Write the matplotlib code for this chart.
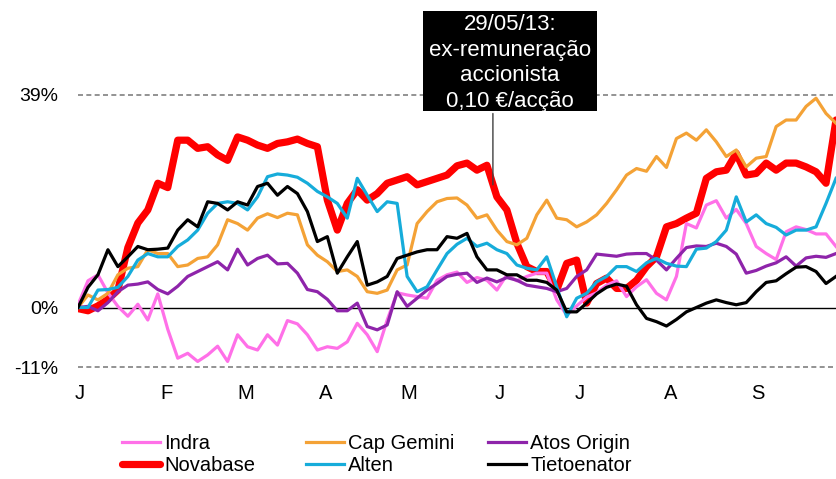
import matplotlib
matplotlib.use('Agg')
import matplotlib.pyplot as plt
from matplotlib.patches import Rectangle
import numpy as np

plt.rcParams['font.family'] = ['Liberation Sans', 'DejaVu Sans']

months = ['J', 'F', 'M', 'A', 'M', 'J', 'J', 'A', 'S']
month_pos = [0.2, 8.92, 16.84, 24.86, 33.19, 42.31, 50.33, 59.45, 68.18]
ytick_vals = [-11, 0, 39]
ytick_labels = ['-11%', '0%', '39%']

indra = [
    0.5, 4.9, 6.0, 2.7, 0.2, -1.6, 0.6, -2.3, 2.5, -4.0,
    -9.3, -8.4, -9.9, -8.7, -7.1, -9.9, -5.0, -7.2, -7.8, -5.0,
    -6.9, -2.4, -3.0, -5.0, -7.8, -7.2, -7.5, -6.3, -2.9, -5.0,
    -8.1, -2.3, 2.7, 2.3, 2.0, 1.7, 5.0, 6.0, 6.5, 4.6,
    5.5, 5.0, 3.2, 6.0, 4.9, 5.7, 6.3, 6.3, 1.4, -1.4,
    0.3, 1.9, 2.7, 4.1, 4.9, 2.0, 3.8, 5.1, 2.6, 1.4,
    5.7, 15.4, 14.6, 18.8, 19.6, 16.4, 18.0, 15.4, 11.2, 9.9,
    8.8, 13.9, 14.8, 14.3, 13.5, 13.5, 11.2]

novabase = [
    -0.2, -0.6, 0.3, 1.5, 3.2, 11.0, 15.5, 17.9, 22.8, 22.0,
    30.7, 30.7, 29.2, 29.5, 28.0, 27.0, 31.3, 30.7, 29.8, 29.2,
    30.1, 30.4, 30.9, 30.1, 29.5, 19.7, 14.2, 19.1, 21.6, 19.7,
    20.9, 22.8, 23.4, 24.0, 22.5, 23.1, 23.7, 24.3, 26.0, 26.5,
    25.2, 26.1, 20.3, 17.9, 11.8, 7.5, 6.6, 6.6, 3.2, 8.1,
    8.7, 0.8, 4.4, 5.4, 3.5, 3.5, 5.0, 7.5, 9.3, 14.8,
    15.4, 16.4, 17.3, 23.7, 24.9, 25.2, 28.3, 24.3, 24.6, 26.5,
    25.2, 26.5, 26.5, 25.8, 24.9, 22.8, 34.4]

capgemini = [
    0.0, 2.3, 1.4, 2.6, 6.0, 7.2, 7.5, 10.6, 9.9, 9.9,
    7.5, 7.8, 9.0, 9.3, 11.5, 16.1, 15.4, 14.2, 16.4, 17.2,
    16.5, 17.3, 17.0, 11.5, 9.6, 8.4, 6.6, 6.9, 5.7, 2.9,
    2.6, 3.2, 6.9, 7.8, 15.4, 17.6, 19.4, 20.0, 20.1, 18.8,
    16.4, 17.0, 14.2, 12.1, 11.5, 12.7, 17.0, 19.7, 16.4, 16.1,
    14.8, 15.7, 17.0, 19.1, 21.6, 24.3, 25.5, 25.0, 27.7, 25.7,
    31.0, 32.0, 30.7, 32.6, 30.4, 27.7, 28.9, 25.8, 27.4, 27.7,
    33.2, 34.4, 34.4, 36.9, 38.4, 35.6, 33.8]

alten = [
    0.0, 0.0, 3.2, 3.3, 3.7, 5.7, 8.7, 9.9, 9.3, 9.3,
    11.2, 12.4, 14.2, 17.3, 19.1, 19.4, 19.1, 17.9, 20.3, 24.0,
    24.5, 24.3, 23.9, 22.8, 21.3, 20.3, 19.1, 16.4, 23.7, 20.6,
    17.6, 19.4, 19.1, 5.7, 2.9, 3.8, 6.9, 9.9, 11.6, 12.7,
    11.2, 11.8, 10.6, 9.9, 7.8, 7.2, 6.9, 9.3, 3.8, -1.7,
    1.7, 2.6, 4.7, 5.7, 7.5, 7.5, 6.6, 8.2, 9.0, 8.1,
    7.6, 7.5, 10.7, 10.9, 12.1, 14.2, 20.3, 15.7, 17.0, 15.4,
    14.7, 13.3, 14.2, 14.2, 14.8, 19.1, 23.7]

atos = [
    0.0, 0.2, -0.6, 0.9, 2.9, 4.1, 4.3, 4.7, 3.3, 2.5,
    3.9, 5.7, 6.6, 7.5, 8.4, 6.9, 10.7, 7.8, 9.0, 9.6,
    8.0, 8.1, 6.3, 3.3, 2.9, 1.5, -0.6, -0.6, 0.8, -3.5,
    -4.1, -3.2, 2.9, 0.2, 1.7, 3.2, 4.4, 5.7, 6.1, 6.3,
    4.6, 5.4, 4.7, 5.5, 5.0, 4.1, 3.8, 3.5, 2.9, 3.5,
    5.7, 6.9, 9.8, 9.6, 9.4, 9.8, 9.9, 9.9, 8.7, 6.9,
    9.0, 11.0, 11.3, 11.2, 11.8, 11.2, 9.8, 6.3, 6.8, 7.6,
    8.2, 9.3, 7.6, 9.1, 9.4, 9.2, 9.9]

tieto = [
    0.0, 3.7, 6.0, 10.6, 7.5, 9.3, 11.2, 10.6, 10.7, 10.9,
    14.2, 16.1, 14.8, 19.4, 19.1, 17.9, 19.4, 18.8, 22.2, 22.8,
    20.6, 22.2, 20.9, 17.6, 12.1, 13.0, 6.3, 9.3, 12.1, 4.1,
    4.7, 5.7, 9.0, 9.6, 10.2, 10.6, 10.6, 13.0, 12.7, 13.6,
    9.3, 6.9, 6.9, 6.0, 6.0, 5.0, 5.0, 4.6, 3.2, -0.8,
    -0.8, 0.8, 2.5, 3.7, 4.3, 3.9, 0.5, -2.0, -2.6, -3.4,
    -2.2, -0.8, 0.0, 0.8, 1.4, 0.9, 0.5, 0.9, 2.9, 4.6,
    4.9, 6.2, 7.4, 7.5, 6.6, 4.4, 5.7]

event_day = 41.6
event_value = 22.0
event_text = '29/05/13:\nex-remuneração\naccionista\n0,10 €/acção'

W, H = 836, 479
fig = plt.figure(figsize=(W / 100, H / 100), dpi=100)
ax_left, ax_right = 78, 836
ax_top, ax_bot = 78.6, 372.9
ax = fig.add_axes([ax_left / W, 1 - ax_bot / H, (ax_right - ax_left) / W, (ax_bot - ax_top) / H])
ax.set_xlim(0, 76)
ax.set_ylim(-12, 42)

x = np.arange(len(indra))

ax.axhline(39, color='#808080', lw=1.2, ls=(0, (3, 2)), zorder=1)
ax.axhline(-11, color='#808080', lw=1.2, ls=(0, (3, 2)), zorder=1)
ax.axhline(0, color='black', lw=1.0, zorder=1)

ln_nova, = ax.plot(x, novabase, color='#FF0000', lw=5.2, label='Novabase', zorder=2,
                   solid_joinstyle='round', solid_capstyle='round')
ln_indra, = ax.plot(x, indra, color='#FF70E8', lw=2.3, label='Indra', zorder=3)
ln_cap, = ax.plot(x, capgemini, color='#F4A236', lw=2.3, label='Cap Gemini', zorder=3)
ln_atos, = ax.plot(x, atos, color='#8E24AA', lw=2.3, label='Atos Origin', zorder=3)
ln_alten, = ax.plot(x, alten, color='#16ACDA', lw=2.3, label='Alten', zorder=4)
ln_tieto, = ax.plot(x, tieto, color='#000000', lw=2.3, label='Tietoenator', zorder=5)

for s in ax.spines.values():
    s.set_visible(False)

ax.set_yticks(ytick_vals, ytick_labels, fontsize=14)
ax.tick_params(axis='y', length=0, pad=14)
ax.set_xticks(month_pos, months, fontsize=14.5)
ax.tick_params(axis='x', length=0, pad=8)

# event annotation
ax.annotate('', xy=(event_day, event_value), xytext=(event_day, 36.1),
            arrowprops=dict(arrowstyle='-', color='#404040', lw=1.0), zorder=6)
fig.patches.append(Rectangle((423 / W, 1 - 111 / H), 174 / W, 100 / H,
                             transform=fig.transFigure, facecolor='black',
                             edgecolor='none', zorder=10))
fig.text(510 / W, 1 - 63 / H, event_text, ha='center', va='center', color='white',
         fontsize=16, linespacing=1.3, zorder=11)

# legend: three columns of two rows
cols = [([ln_indra, ln_nova], 122), ([ln_cap, ln_alten], 306), ([ln_atos, ln_tieto], 488)]
for handles, px in cols:
    fig.legend(handles=handles, loc='upper left',
               bbox_to_anchor=(px / W, 1 - 434 / H), frameon=False,
               borderpad=0, borderaxespad=0, handlelength=1.9,
               handletextpad=0.2, labelspacing=0.15,
               prop={'family': ['Liberation Sans', 'DejaVu Sans'], 'size': 14.5})

fig.savefig('out.png', dpi=100)
